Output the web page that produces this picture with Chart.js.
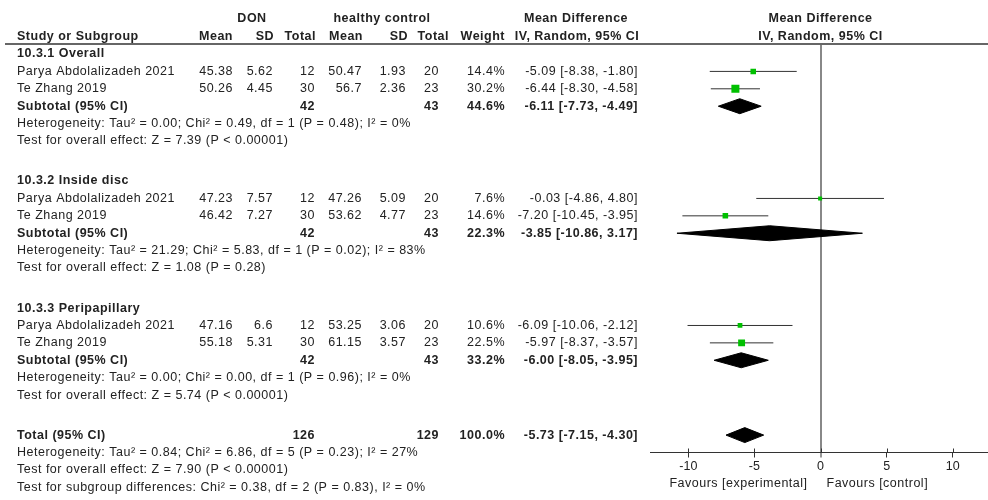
<!DOCTYPE html>
<html>
<head>
<meta charset="utf-8">
<script src="https://cdn.jsdelivr.net/npm/chart.js@4.4.0/dist/chart.umd.min.js"></script>
<style>
  html, body { margin: 0; padding: 0; background: #fff; }
  #wrap { width: 988px; height: 500px; }
</style>
</head>
<body>
<div id="wrap"><canvas id="forest" width="988" height="500"></canvas></div>
<script>
// ---- study data (one entry per study row, in display order) ----
const subgroupNames = ['10.3.1 Overall', '10.3.2 Inside disc', '10.3.3 Peripapillary'];
const studyNames = ['Parya Abdolalizadeh 2021', 'Te Zhang 2019',
                    'Parya Abdolalizadeh 2021', 'Te Zhang 2019',
                    'Parya Abdolalizadeh 2021', 'Te Zhang 2019'];
const donMean = [45.38, 50.26, 47.23, 46.42, 47.16, 55.18];
const donSD   = [5.62, 4.45, 7.57, 7.27, 6.6, 5.31];
const donN    = [12, 30, 12, 30, 12, 30];
const hcMean  = [50.47, 56.7, 47.26, 53.62, 53.25, 61.15];
const hcSD    = [1.93, 2.36, 5.09, 4.77, 3.06, 3.57];
const hcN     = [20, 23, 20, 23, 20, 23];
const weight  = [14.4, 30.2, 7.6, 14.6, 10.6, 22.5];
const md      = [-5.09, -6.44, -0.03, -7.20, -6.09, -5.97];
const ciLow   = [-8.38, -8.30, -4.86, -10.45, -10.06, -8.37];
const ciHigh  = [-1.80, -4.58, 4.80, -3.95, -2.12, -3.57];

// ---- subgroup pooled results ----
const subDonN   = [42, 42, 42];
const subHcN    = [43, 43, 43];
const subWeight = [44.6, 22.3, 33.2];
const subMd     = [-6.11, -3.85, -6.00];
const subLow    = [-7.73, -10.86, -8.05];
const subHigh   = [-4.49, 3.17, -3.95];
const subHetText = [
  'Heterogeneity: Tau\u00b2 = 0.00; Chi\u00b2 = 0.49, df = 1 (P = 0.48); I\u00b2 = 0%',
  'Heterogeneity: Tau\u00b2 = 21.29; Chi\u00b2 = 5.83, df = 1 (P = 0.02); I\u00b2 = 83%',
  'Heterogeneity: Tau\u00b2 = 0.00; Chi\u00b2 = 0.00, df = 1 (P = 0.96); I\u00b2 = 0%'
];
const subEffectText = [
  'Test for overall effect: Z = 7.39 (P < 0.00001)',
  'Test for overall effect: Z = 1.08 (P = 0.28)',
  'Test for overall effect: Z = 5.74 (P < 0.00001)'
];

// ---- overall pooled result ----
const totalDonN = 126;
const totalHcN = 129;
const totalWeight = 100.0;
const totalMd = -5.73;
const totalLow = -7.15;
const totalHigh = -4.30;
const totalNotes = [
  'Heterogeneity: Tau\u00b2 = 0.84; Chi\u00b2 = 6.86, df = 5 (P = 0.23); I\u00b2 = 27%',
  'Test for overall effect: Z = 7.90 (P < 0.00001)',
  'Test for subgroup differences: Chi\u00b2 = 0.38, df = 2 (P = 0.83), I\u00b2 = 0%'
];

// ---- axis ----
const tickValues = [-10, -5, 0, 5, 10];
const favourLeft = 'Favours [experimental]';
const favourRight = 'Favours [control]';

// ---- row layout (in row units) ----
const SECTION_STEP = 7.3;
const sectionStart = s => s * SECTION_STEP;
const studyRow = i => sectionStart(Math.floor(i / 2)) + 1 + (i % 2);
const subtotalRow = s => sectionStart(s) + 3;
const totalRow = 3 * SECTION_STEP;
const DIAMOND_HALF = 0.43;

const fmt2 = v => v.toFixed(2);
const ciText = (m, l, h) => `${fmt2(m)} [${fmt2(l)}, ${fmt2(h)}]`;

// ---- datasets ----
const datasets = [];
datasets.push({
  type: 'scatter',
  data: md.map((m, i) => ({ x: m, y: studyRow(i) })),
  pointStyle: 'rect',
  pointRadius: ctx => 1.03 * Math.sqrt(weight[ctx.dataIndex]),
  pointHoverRadius: ctx => 1.03 * Math.sqrt(weight[ctx.dataIndex]),
  backgroundColor: '#00c000',
  borderWidth: 0
});
md.forEach((m, i) => {
  datasets.push({
    type: 'line',
    data: [{ x: ciLow[i], y: studyRow(i) }, { x: ciHigh[i], y: studyRow(i) }],
    borderColor: '#333',
    borderWidth: 1,
    pointRadius: 0,
    fill: false
  });
});
function diamond(m, l, h, row) {
  return {
    type: 'line',
    data: [
      { x: l, y: row }, { x: m, y: row - DIAMOND_HALF },
      { x: h, y: row }, { x: m, y: row + DIAMOND_HALF }, { x: l, y: row }
    ],
    borderColor: '#000',
    backgroundColor: '#000',
    borderWidth: 1,
    pointRadius: 0,
    tension: 0,
    fill: 'shape'
  };
}
subMd.forEach((m, s) => datasets.push(diamond(m, subLow[s], subHigh[s], subtotalRow(s))));
datasets.push(diamond(totalMd, totalLow, totalHigh, totalRow));

// ---- table text ----
const FONT = '"Liberation Sans", Arial, sans-serif';
const COL = { name: 17, donMean: 233, donSD: 273, donN: 315, hcMean: 362, hcSD: 406, hcN: 439, weight: 505, ci: 638 };

const tablePlugin = {
  id: 'forestTable',
  afterDraw(chart) {
    const ctx = chart.ctx;
    const ys = chart.scales.y;
    const xs = chart.scales.x;
    const Y = r => ys.getPixelForValue(r);
    ctx.save();
    ctx.fillStyle = '#222';
    ctx.textBaseline = 'middle';
    try { ctx.letterSpacing = '0.5px'; } catch (e) {}
    const t = (s, x, y, align, bold) => {
      ctx.font = (bold ? 'bold ' : '') + '12.5px ' + FONT;
      ctx.textAlign = align;
      ctx.fillText(s, x, y);
    };

    // header
    const h1 = Y(-2.02), h2 = Y(-0.98);
    t('DON', 252, h1, 'center', true);
    t('healthy control', 382, h1, 'center', true);
    t('Mean Difference', 576, h1, 'center', true);
    t('Mean Difference', xs.getPixelForValue(0), h1, 'center', true);
    t('Study or Subgroup', COL.name, h2, 'left', true);
    t('Mean', 233, h2, 'right', true);
    t('SD', 274, h2, 'right', true);
    t('Total', 316, h2, 'right', true);
    t('Mean', 363, h2, 'right', true);
    t('SD', 408, h2, 'right', true);
    t('Total', 449, h2, 'right', true);
    t('Weight', 505, h2, 'right', true);
    t('IV, Random, 95% CI', 577, h2, 'center', true);
    t('IV, Random, 95% CI', xs.getPixelForValue(0), h2, 'center', true);

    // subgroups
    subgroupNames.forEach((name, s) => {
      t(name, COL.name, Y(sectionStart(s)), 'left', true);
      for (let k = 0; k < 2; k++) {
        const i = s * 2 + k;
        const y = Y(studyRow(i));
        t(studyNames[i], COL.name, y, 'left');
        t(String(donMean[i]), COL.donMean, y, 'right');
        t(String(donSD[i]), COL.donSD, y, 'right');
        t(String(donN[i]), COL.donN, y, 'right');
        t(String(hcMean[i]), COL.hcMean, y, 'right');
        t(String(hcSD[i]), COL.hcSD, y, 'right');
        t(String(hcN[i]), COL.hcN, y, 'right');
        t(weight[i].toFixed(1) + '%', COL.weight, y, 'right');
        t(ciText(md[i], ciLow[i], ciHigh[i]), COL.ci, y, 'right');
      }
      const ys2 = Y(subtotalRow(s));
      t('Subtotal (95% CI)', COL.name, ys2, 'left', true);
      t(String(subDonN[s]), COL.donN, ys2, 'right', true);
      t(String(subHcN[s]), COL.hcN, ys2, 'right', true);
      t(subWeight[s].toFixed(1) + '%', COL.weight, ys2, 'right', true);
      t(ciText(subMd[s], subLow[s], subHigh[s]), COL.ci, ys2, 'right', true);
      t(subHetText[s], COL.name, Y(subtotalRow(s) + 1), 'left');
      t(subEffectText[s], COL.name, Y(subtotalRow(s) + 2), 'left');
    });

    // overall
    const yt = Y(totalRow);
    t('Total (95% CI)', COL.name, yt, 'left', true);
    t(String(totalDonN), COL.donN, yt, 'right', true);
    t(String(totalHcN), COL.hcN, yt, 'right', true);
    t(totalWeight.toFixed(1) + '%', COL.weight, yt, 'right', true);
    t(ciText(totalMd, totalLow, totalHigh), COL.ci, yt, 'right', true);
    totalNotes.forEach((s, k) => t(s, COL.name, Y(totalRow + 1 + k), 'left'));

    // header rule
    ctx.strokeStyle = '#666';
    ctx.lineWidth = 2;
    ctx.beginPath();
    ctx.moveTo(5, chart.chartArea.top);
    ctx.lineTo(chart.width, chart.chartArea.top);
    ctx.stroke();

    // tick marks crossing the axis
    const axisY = chart.chartArea.bottom;
    ctx.strokeStyle = '#333';
    ctx.lineWidth = 1;
    xs.ticks.forEach(tk => {
      const px = Math.round(xs.getPixelForValue(tk.value)) + 0.5;
      ctx.beginPath();
      ctx.moveTo(px, axisY - 4);
      ctx.lineTo(px, axisY);
      ctx.stroke();
    });

    // direction labels
    const zero = xs.getPixelForValue(0);
    const fy = axisY + 31;
    t(favourLeft, zero - 13, fy, 'right');
    t(favourRight, zero + 6, fy, 'left');
    ctx.restore();
  }
};

new Chart(document.getElementById('forest'), {
  type: 'scatter',
  data: { datasets },
  options: {
    responsive: false,
    devicePixelRatio: 1,
    animation: false,
    events: [],
    layout: { autoPadding: false, padding: { left: 650, top: 44, right: 0, bottom: 0 } },
    plugins: { legend: { display: false }, tooltip: { enabled: false } },
    scales: {
      x: {
        type: 'linear',
        min: -12.9,
        max: 12.67,
        afterBuildTicks: scale => { scale.ticks = tickValues.map(v => ({ value: v })); },
        afterFit: scale => { scale.height = 47.5; },
        grid: {
          drawOnChartArea: true,
          color: c => (c.tick && c.tick.value === 0 ? '#888' : 'rgba(0,0,0,0)'),
          lineWidth: c => (c.tick && c.tick.value === 0 ? 2 : 1),
          tickColor: '#333',
          tickLength: 5,
          tickWidth: 1
        },
        border: { display: true, color: '#333', width: 1 },
        ticks: {
          color: '#222',
          padding: 2,
          font: { family: FONT, size: 12.5 },
          callback: v => String(v)
        }
      },
      y: {
        type: 'linear',
        display: false,
        reverse: true,
        min: -0.575,
        max: 22.9
      }
    }
  },
  plugins: [tablePlugin]
});
</script>
</body>
</html>
